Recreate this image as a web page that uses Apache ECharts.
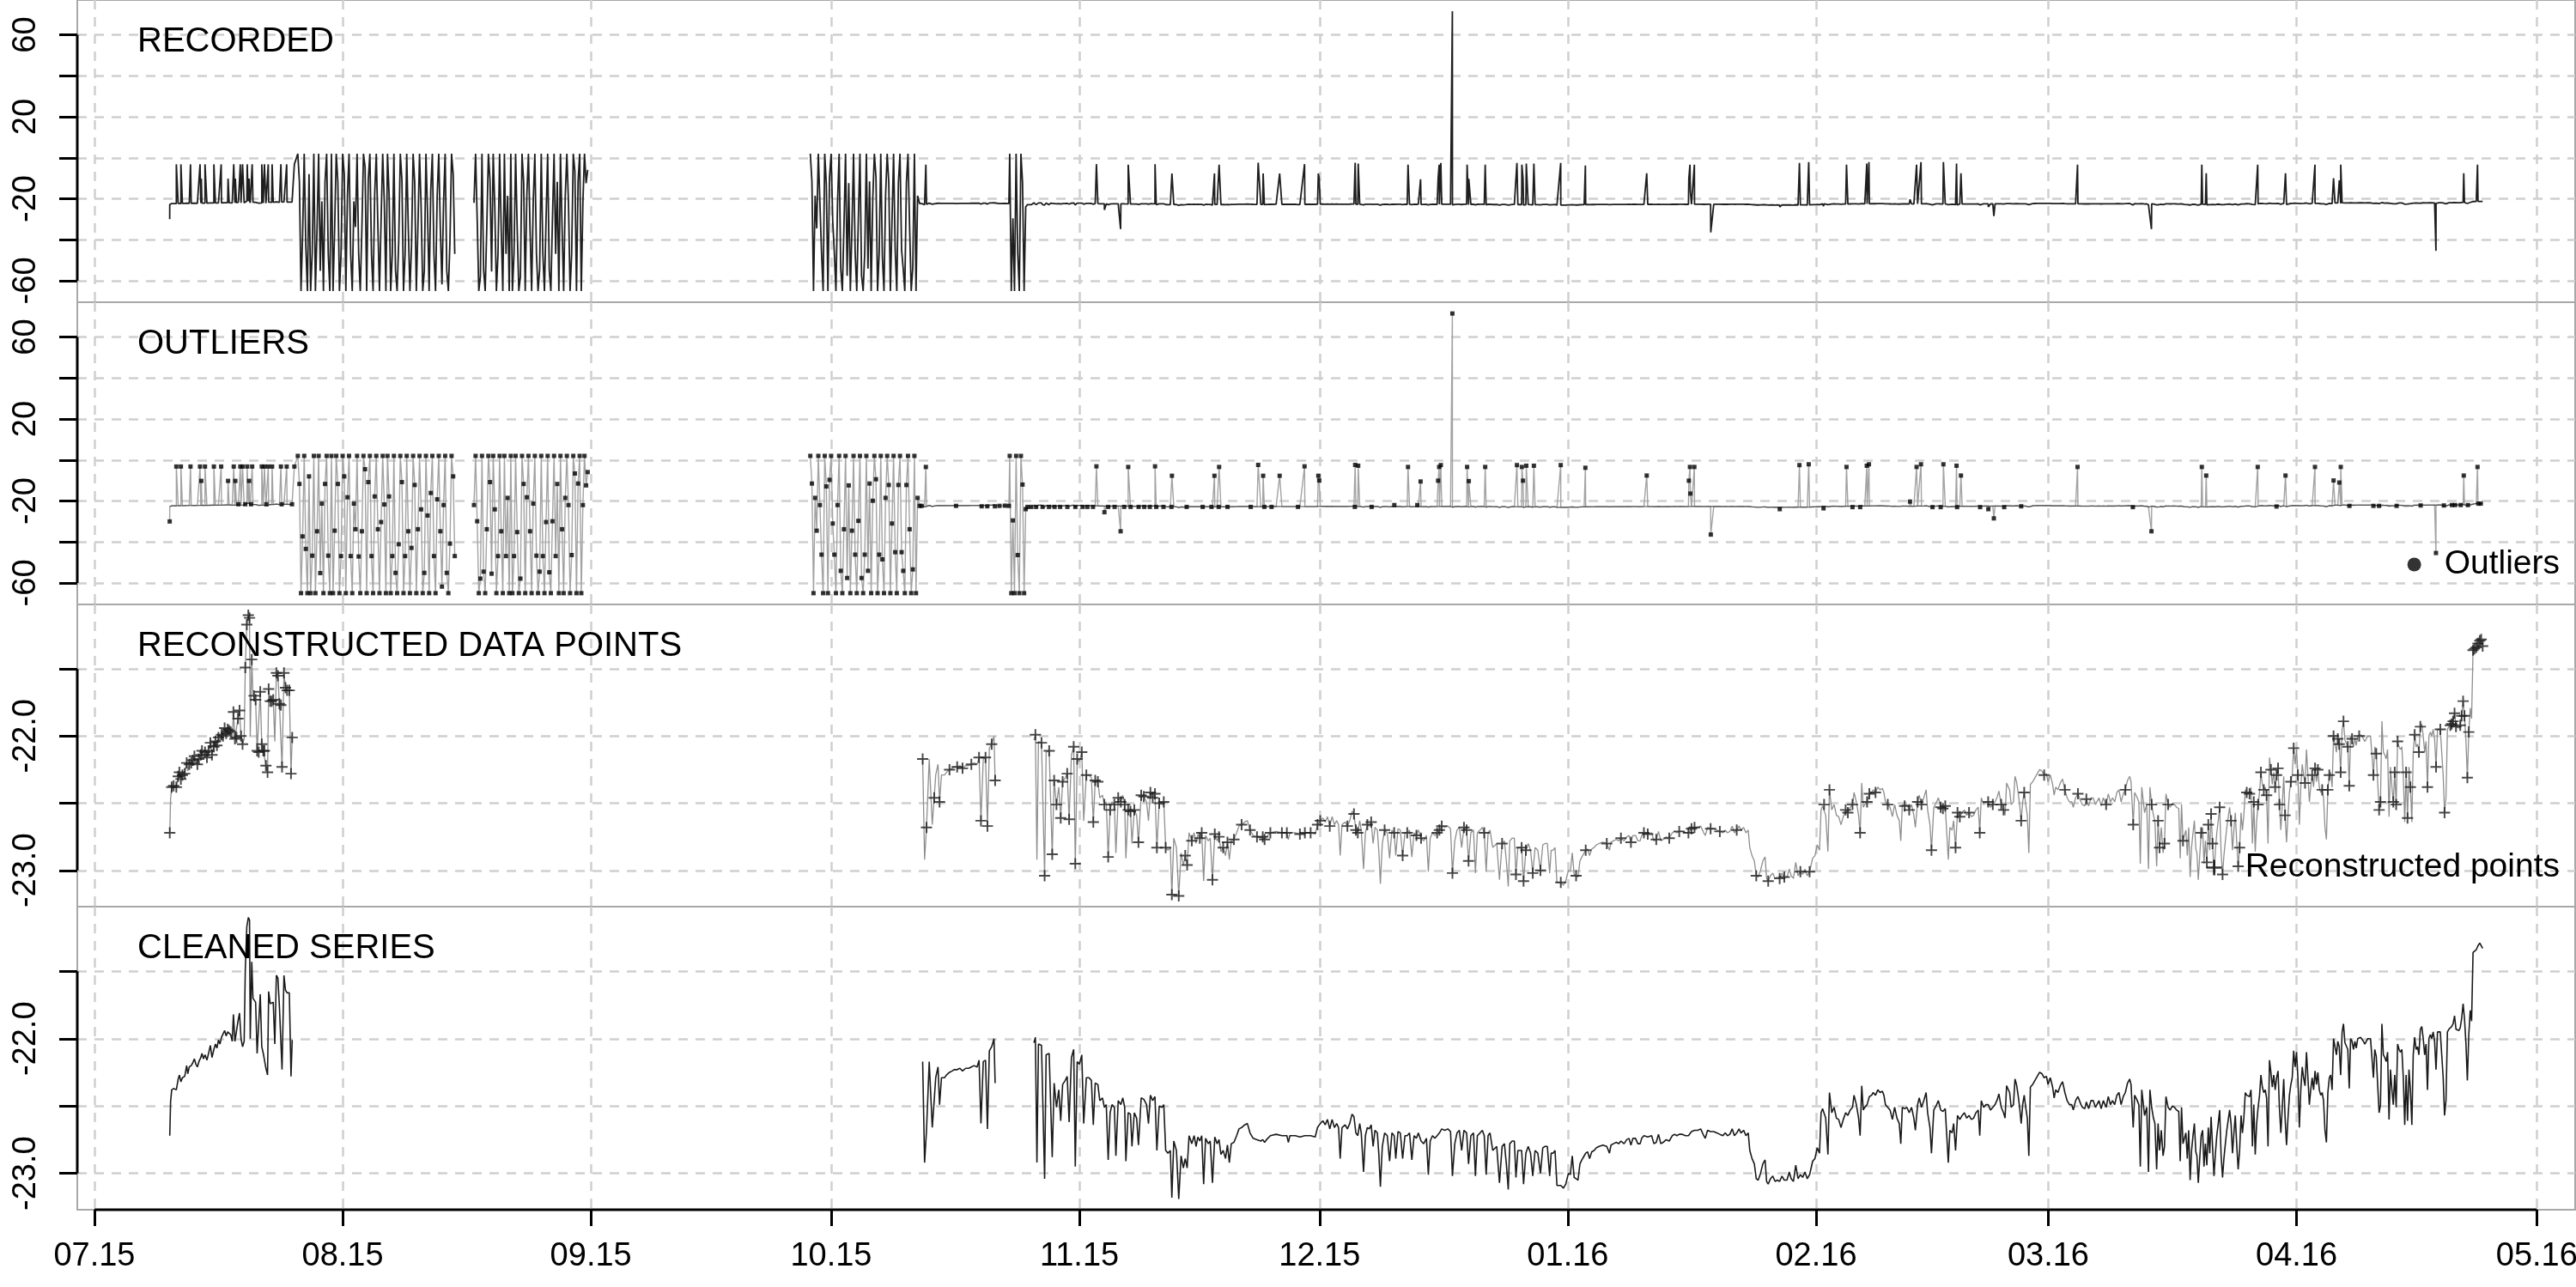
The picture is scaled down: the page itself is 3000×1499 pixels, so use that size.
<!DOCTYPE html>
<html><head><meta charset="utf-8">
<script src="https://cdn.jsdelivr.net/npm/echarts@6/dist/echarts.min.js"></script>
<style>html,body{margin:0;padding:0;background:#fff}#c{width:3000px;height:1499px}</style>
</head><body><div id="c"></div><script>
// ---------------- DATA (day = days since 2015-07-01) ----------------
const monthTickDates = ['2015-07-01','2015-08-01','2015-09-01','2015-10-01','2015-11-01','2015-12-01','2016-01-01','2016-02-01','2016-03-01','2016-04-01','2016-05-01'];
const monthTickLabels = ['07.15','08.15','09.15','10.15','11.15','12.15','01.16','02.16','03.16','04.16','05.16'];
const dayRange = [-2.14, 309.79];
const recordedRange = [-70.5, 77];
const cleanedRange = [-23.27, -21.02];
const recordedTicks = [-60, -40, -20, 0, 20, 40, 60];
const recordedLabelTicks = [-60, -20, 20, 60];
const cleanedTicks = [-23, -22.5, -22, -21.5];
const cleanedLabelTicks = [-23, -22];
const panelTitles = ['RECORDED', 'OUTLIERS', 'RECONSTRUCTED DATA POINTS', 'CLEANED SERIES'];

const cleanedJul = [[9.41,-22.72],[9.51,-22.47],[9.65,-22.38],[9.89,-22.37],[10.23,-22.38],[10.46,-22.30],[10.61,-22.27],[10.80,-22.32],[10.99,-22.29],[11.28,-22.28],[11.52,-22.20],[11.66,-22.26],[11.85,-22.21],[12.09,-22.20],[12.28,-22.18],[12.48,-22.15],[12.67,-22.19],[12.86,-22.21],[13.05,-22.17],[13.29,-22.14],[13.43,-22.11],[13.62,-22.15],[13.81,-22.12],[14.05,-22.16],[14.25,-22.11],[14.48,-22.05],[14.68,-22.14],[14.92,-22.08],[15.11,-22.04],[15.30,-22.07],[15.49,-22.01],[15.68,-22.04],[15.87,-21.99],[16.06,-22.00],[16.26,-21.94],[16.45,-21.98],[16.64,-21.95],[16.83,-21.96],[17.02,-21.97],[17.21,-22.02],[17.36,-21.82],[17.55,-22.02],[17.74,-22.01],[17.93,-21.87],[18.12,-21.81],[18.31,-22.00],[18.50,-22.06],[18.70,-22.02],[18.84,-21.49],[19.03,-21.17],[19.22,-21.10],[19.37,-21.12],[19.46,-22.00],[19.65,-21.43],[19.80,-21.70],[19.94,-21.70],[20.13,-21.73],[20.32,-22.11],[20.52,-22.12],[20.71,-21.67],[20.90,-22.06],[21.09,-22.11],[21.23,-22.11],[21.42,-22.22],[21.62,-22.27],[21.76,-21.65],[21.95,-21.74],[22.14,-21.74],[22.33,-21.73],[22.53,-22.04],[22.72,-21.53],[22.91,-21.55],[23.10,-21.76],[23.29,-21.77],[23.43,-22.23],[23.67,-21.53],[23.86,-21.64],[24.06,-21.66],[24.34,-21.66],[24.55,-22.28],[24.70,-22.01]];

const cleanedOct = [[103.43,-22.17],[103.67,-22.92],[103.91,-22.68],[104.25,-22.17],[104.44,-22.18],[104.63,-22.66],[104.87,-22.46],[105.06,-22.29],[105.35,-22.21],[105.54,-22.49],[105.78,-22.29],[106.16,-22.29],[106.40,-22.27],[106.78,-22.25],[107.12,-22.24],[107.36,-22.23],[107.74,-22.23],[108.08,-22.22],[108.41,-22.24],[108.80,-22.22],[109.18,-22.22],[109.51,-22.21],[109.85,-22.20],[110.23,-22.21],[110.47,-22.16],[110.71,-22.63],[111.00,-22.17],[111.28,-22.16],[111.52,-22.67],[111.76,-22.09],[112.05,-22.06],[112.34,-22.00],[112.48,-22.33]];

const cleanedMain = [[117.32,-22.03],[117.51,-21.99],[117.70,-22.92],[117.89,-22.04],[118.27,-22.05],[118.66,-23.04],[118.85,-22.12],[119.23,-22.11],[119.42,-22.12],[119.61,-22.88],[119.85,-22.33],[120.14,-22.51],[120.43,-22.38],[120.67,-22.61],[120.91,-22.34],[121.24,-22.31],[121.48,-22.28],[121.72,-22.62],[122.01,-22.14],[122.29,-22.08],[122.49,-22.95],[122.73,-22.17],[123.01,-22.19],[123.30,-22.12],[123.54,-22.63],[123.87,-22.29],[124.21,-22.29],[124.50,-22.31],[124.74,-22.64],[124.98,-22.33],[125.31,-22.34],[125.55,-22.46],[125.89,-22.44],[126.12,-22.51],[126.36,-22.49],[126.60,-22.90],[126.84,-22.55],[127.08,-22.49],[127.37,-22.51],[127.56,-22.87],[127.85,-22.46],[128.18,-22.49],[128.42,-22.44],[128.66,-22.51],[128.81,-22.91],[129.09,-22.55],[129.38,-22.56],[129.57,-22.80],[129.86,-22.55],[130.15,-22.59],[130.38,-22.79],[130.72,-22.44],[131.05,-22.45],[131.39,-22.49],[131.63,-22.63],[131.87,-22.42],[132.16,-22.46],[132.44,-22.43],[132.68,-22.83],[132.97,-22.50],[133.31,-22.51],[133.54,-22.49],[133.78,-22.83],[134.07,-22.85],[134.36,-22.83],[134.55,-23.18],[134.79,-22.76],[135.12,-22.83],[135.41,-23.19],[135.70,-22.87],[135.99,-22.96],[136.22,-22.89],[136.46,-22.96],[136.70,-22.72],[137.04,-22.78],[137.33,-22.72],[137.57,-22.80],[137.80,-22.73],[138.04,-22.76],[138.28,-22.72],[138.52,-23.08],[138.76,-22.74],[139.10,-22.78],[139.34,-22.76],[139.62,-23.07],[139.91,-22.73],[140.20,-22.78],[140.44,-22.75],[140.68,-22.86],[140.96,-22.83],[141.25,-22.89],[141.49,-22.79],[141.73,-22.92],[141.97,-22.78],[142.30,-22.77],[142.64,-22.72],[142.93,-22.67],[143.26,-22.66],[143.64,-22.64],[143.98,-22.63],[144.31,-22.70],[144.70,-22.74],[145.18,-22.75],[145.66,-22.76],[145.90,-22.75],[146.13,-22.77],[146.37,-22.75],[146.85,-22.72],[147.57,-22.71],[148.29,-22.72],[148.91,-22.72],[149.10,-22.77],[149.29,-22.72],[149.96,-22.72],[150.54,-22.73],[150.73,-22.74],[151.16,-22.72],[151.88,-22.72],[152.45,-22.73],[152.74,-22.66],[153.08,-22.63],[153.41,-22.61],[153.70,-22.64],[153.98,-22.60],[154.27,-22.67],[154.56,-22.60],[154.85,-22.66],[155.13,-22.63],[155.37,-22.66],[155.57,-22.89],[155.80,-22.66],[156.19,-22.64],[156.47,-22.67],[156.76,-22.63],[157.05,-22.56],[157.29,-22.58],[157.53,-22.70],[157.77,-22.72],[158.01,-22.63],[158.20,-22.70],[158.49,-22.99],[158.72,-22.72],[158.96,-22.66],[159.20,-22.67],[159.44,-22.64],[159.68,-22.80],[159.92,-22.68],[160.21,-22.70],[160.40,-22.86],[160.59,-23.10],[160.83,-22.80],[161.12,-22.70],[161.45,-22.72],[161.74,-22.91],[162.03,-22.70],[162.31,-22.72],[162.51,-22.89],[162.79,-22.69],[163.08,-22.70],[163.37,-22.89],[163.66,-22.72],[163.94,-22.72],[164.23,-22.70],[164.52,-22.90],[164.80,-22.72],[165.09,-22.74],[165.33,-22.70],[165.67,-22.76],[166.00,-22.78],[166.34,-22.74],[166.58,-23.01],[166.81,-22.76],[167.10,-22.72],[167.39,-22.74],[167.68,-22.72],[167.96,-22.70],[168.25,-22.67],[168.63,-22.68],[169.02,-22.67],[169.35,-22.69],[169.59,-23.02],[169.88,-22.78],[170.16,-22.70],[170.45,-22.68],[170.74,-22.83],[171.03,-22.68],[171.36,-22.70],[171.60,-22.93],[171.89,-22.72],[172.22,-22.70],[172.46,-23.02],[172.70,-22.72],[173.04,-22.70],[173.32,-22.68],[173.56,-22.72],[173.80,-23.01],[174.04,-22.72],[174.28,-22.70],[174.62,-22.83],
[175.12,-22.80],[175.46,-23.07],[175.79,-22.80],[176.08,-22.78],[176.32,-22.93],[176.56,-23.12],[176.75,-22.78],[177.04,-22.76],[177.32,-22.76],[177.52,-23.03],[177.76,-22.83],[178.00,-22.83],[178.23,-22.83],[178.47,-23.08],[178.76,-22.85],[179.05,-22.80],[179.34,-22.85],[179.62,-23.02],[179.91,-22.83],[180.25,-22.85],[180.58,-23.00],[180.87,-22.81],[181.15,-22.80],[181.44,-22.80],[181.73,-23.02],[181.92,-22.85],[182.16,-22.85],[182.40,-22.83],[182.64,-23.09],[183.12,-23.09],[183.45,-23.11],[183.74,-23.08],[184.07,-23.00],[184.31,-23.01],[184.55,-22.87],[184.79,-23.03],[185.03,-23.04],[185.27,-23.05],[185.51,-22.93],[185.75,-22.90],[186.04,-22.87],[186.23,-22.85],[186.47,-22.84],[186.71,-22.89],[186.99,-22.84],[187.28,-22.83],[187.57,-22.81],[187.90,-22.80],[188.38,-22.79],[188.86,-22.80],[189.20,-22.85],[189.39,-22.79],[189.68,-22.78],[190.06,-22.77],[190.35,-22.78],[190.63,-22.76],[191.02,-22.78],[191.35,-22.75],[191.64,-22.74],[191.88,-22.79],[192.12,-22.74],[192.45,-22.74],[192.74,-22.78],[193.03,-22.78],[193.22,-22.74],[193.50,-22.72],[193.98,-22.73],[194.46,-22.72],[194.75,-22.78],[195.04,-22.77],[195.32,-22.71],[195.61,-22.78],[195.90,-22.77],[196.28,-22.75],[196.66,-22.76],[197.05,-22.72],[197.33,-22.71],[197.62,-22.72],[197.91,-22.71],[198.29,-22.71],[198.68,-22.72],[199.06,-22.72],[199.44,-22.69],[199.82,-22.68],[200.21,-22.68],[200.59,-22.67],[200.97,-22.72],[201.16,-22.74],[201.45,-22.68],[201.83,-22.69],[202.22,-22.69],[202.60,-22.70],[202.98,-22.71],[203.37,-22.72],[203.65,-22.70],[203.94,-22.72],[204.23,-22.71],[204.52,-22.67],[204.80,-22.72],[205.09,-22.70],[205.38,-22.67],[205.62,-22.70],[205.95,-22.68],[206.24,-22.72],[206.53,-22.70],[206.72,-22.83],[207.00,-22.89],[207.29,-22.93],[207.53,-23.04],[207.77,-23.05],[208.06,-23.00],[208.35,-22.93],[208.63,-22.90],[208.82,-23.06],[209.02,-23.08],[209.30,-23.04],[209.59,-23.02],[209.88,-23.06],[210.16,-23.05],[210.45,-23.06],[210.74,-23.02],[211.03,-23.05],[211.36,-23.05],[211.65,-22.99],[211.89,-23.04],[212.17,-23.06],[212.46,-22.94],[212.75,-23.04],[213.04,-23.01],[213.32,-23.03],[213.61,-22.99],[213.90,-23.04],[214.19,-23.01],[214.38,-23.00],[214.57,-22.91],[214.86,-22.89],[215.14,-22.81],[215.43,-22.85],[215.62,-22.55],[215.81,-22.52],[216.00,-22.51],[216.20,-22.59],[216.48,-22.86],[216.67,-22.40],[216.96,-22.55],[217.25,-22.51],[217.54,-22.59],[217.82,-22.60],[218.11,-22.66],[218.40,-22.60],[218.69,-22.55],[218.97,-22.57],[219.26,-22.53],[219.55,-22.51],[219.74,-22.42],[220.03,-22.49],[220.31,-22.59],[220.50,-22.72],[220.70,-22.35],[220.89,-22.53],[221.08,-22.51],[221.37,-22.49],[221.65,-22.43],[221.94,-22.42],[222.13,-22.40],[222.42,-22.42],[222.71,-22.38],[222.99,-22.40],[223.28,-22.39],[223.47,-22.42],[223.66,-22.49],[223.95,-22.51],[224.24,-22.53],[224.53,-22.60],[224.81,-22.51],[225.10,-22.59],[225.39,-22.63],[225.58,-22.78],[225.77,-22.51],[226.06,-22.52],[226.34,-22.51],[226.63,-22.55],[226.92,-22.51],[227.21,-22.59],[227.40,-22.68],[227.68,-22.49],[227.88,-22.44],[228.16,-22.51],[228.45,-22.46],[228.74,-22.40],[228.93,-22.55],[229.22,-22.66],[229.41,-22.85],[229.70,-22.53],[229.98,-22.50],[230.27,-22.46],[230.56,-22.53],[230.84,-22.54],[231.13,-22.52],[231.32,-22.72],[231.51,-22.92],[231.71,-22.68],[231.99,-22.70],[232.18,-22.63],[232.42,-22.83],[232.66,-22.57],[232.95,-22.60],[233.24,-22.57],[233.52,-22.55],[233.81,-22.59],[234.10,-22.57],[234.39,-22.60],[234.67,-22.59],[234.96,-22.55],[235.25,-22.53],[235.44,-22.72],[235.63,-22.46],[235.92,-22.51],[236.21,-22.49],[236.49,-22.49],[236.78,-22.53],[237.07,-22.51],[237.35,-22.49],[237.64,-22.45],[237.83,-22.41],[238.12,-22.51],[238.41,-22.55],[238.60,-22.59],[238.79,-22.35],[238.98,-22.36],[239.17,-22.40],[239.36,-22.51],[239.65,-22.49],[239.84,-22.30],[240.03,-22.34],[240.23,-22.42],[240.42,-22.51],[240.61,-22.63],[240.80,-22.49],[240.99,-22.42],[241.18,-22.51],[241.38,-22.59],[241.57,-22.87],[241.76,-22.36],[242.05,-22.34],[242.33,-22.31],[242.62,-22.28],[242.91,-22.25],[243.20,-22.26],[243.48,-22.29],[243.77,-22.28],[243.96,-22.34],[244.25,-22.29],[244.54,-22.36],[244.73,-22.44],[244.92,-22.38],[245.20,-22.40],[245.49,-22.35],[245.78,-22.32],[246.07,-22.40],[246.35,-22.46],[246.64,-22.49],[246.93,-22.49],[247.12,-22.53],[247.41,-22.46],[247.70,-22.43],[247.89,-22.42],[248.08,-22.49],[248.27,-22.51],[248.56,-22.52],[248.75,-22.47],[249.04,-22.52],[249.33,-22.46],[249.61,-22.46],
[249.89,-22.51],[250.33,-22.46],[250.60,-22.52],[250.87,-22.46],[251.22,-22.51],[251.49,-22.43],[251.76,-22.49],[252.02,-22.46],[252.29,-22.49],[252.56,-22.42],[252.82,-22.40],[253.09,-22.49],[253.36,-22.43],[253.62,-22.40],[253.89,-22.33],[254.16,-22.30],[254.33,-22.34],[254.60,-22.66],[254.78,-22.42],[255.04,-22.45],[255.31,-22.49],[255.49,-22.95],[255.67,-22.38],[255.84,-22.37],[256.02,-22.57],[256.29,-22.51],[256.51,-22.99],[256.69,-22.38],[256.91,-22.51],[257.13,-22.59],[257.31,-22.63],[257.53,-22.97],[257.71,-22.63],[257.89,-22.83],[258.11,-22.68],[258.33,-22.87],[258.51,-22.80],[258.69,-22.43],[258.96,-22.51],[259.22,-22.53],[259.49,-22.50],[259.76,-22.51],[260.02,-22.53],[260.29,-22.54],[260.47,-22.91],[260.64,-22.51],[260.82,-22.78],[261.00,-22.79],[261.18,-22.70],[261.36,-22.89],[261.53,-22.68],[261.71,-23.05],[261.89,-22.83],[262.07,-22.72],[262.24,-22.63],[262.42,-22.84],[262.56,-22.87],[262.73,-23.07],[262.91,-22.89],[263.09,-22.72],[263.27,-22.68],[263.44,-22.95],[263.62,-22.78],[263.80,-22.94],[263.98,-22.66],[264.16,-22.85],[264.33,-22.58],[264.51,-22.80],[264.69,-23.02],[264.87,-22.85],[265.04,-22.72],[265.22,-22.63],[265.40,-22.53],[265.58,-22.87],[265.76,-23.03],[265.93,-22.89],[266.11,-22.78],[266.29,-22.68],[266.47,-22.68],[266.64,-22.53],[266.82,-22.63],[267.00,-22.85],[267.18,-22.70],[267.35,-22.57],[267.53,-22.79],[267.71,-22.97],[267.89,-22.83],[268.07,-22.57],[268.24,-22.70],[268.42,-22.59],[268.60,-22.40],[268.78,-22.42],[268.95,-22.42],[269.13,-22.43],[269.31,-22.38],[269.49,-22.80],[269.66,-22.49],[269.84,-22.86],[270.02,-22.63],[270.20,-22.51],[270.38,-22.42],[270.55,-22.27],[270.73,-22.36],[270.91,-22.40],[271.09,-22.38],[271.26,-22.44],[271.44,-22.80],[271.62,-22.16],[271.80,-22.25],[271.97,-22.36],[272.15,-22.27],[272.33,-22.38],[272.51,-22.29],[272.69,-22.24],[272.86,-22.51],[273.04,-22.70],[273.22,-22.51],[273.40,-22.30],[273.57,-22.59],[273.75,-22.79],[273.93,-22.59],[274.11,-22.42],[274.29,-22.34],[274.46,-22.29],[274.64,-22.09],[274.82,-22.21],[275.00,-22.10],[275.17,-22.29],[275.35,-22.66],[275.53,-22.38],[275.71,-22.21],[275.88,-22.29],[276.06,-22.35],[276.24,-22.10],[276.42,-22.29],[276.60,-22.49],[276.77,-22.38],[276.95,-22.29],[277.13,-22.38],[277.31,-22.24],[277.49,-22.34],[277.66,-22.25],[277.84,-22.38],[278.02,-22.42],[278.20,-22.40],[278.37,-22.46],[278.55,-22.68],[278.73,-22.77],[278.91,-22.40],[279.09,-22.29],[279.26,-22.27],[279.44,-22.38],[279.62,-22.00],[279.80,-22.06],[279.98,-22.12],[280.15,-22.02],[280.33,-22.06],[280.51,-22.27],[280.69,-21.95],[280.86,-21.89],[281.04,-22.03],[281.22,-22.02],[281.40,-22.08],[281.58,-22.37],[281.75,-22.00],[281.93,-22.02],[282.11,-22.08],[282.29,-22.02],[282.46,-22.07],[282.64,-22.00],[282.82,-22.00],[283.00,-21.99],[283.17,-22.00],[283.35,-22.02],[283.53,-22.04],[283.71,-22.02],[283.89,-22.00],[284.06,-21.99],[284.24,-22.00],[284.42,-22.00],[284.60,-22.29],[284.77,-22.08],[284.95,-22.13],[285.13,-22.14],[285.31,-22.55],[285.48,-22.49],[285.66,-21.89],[285.84,-22.12],[286.02,-22.14],[286.20,-22.17],[286.37,-22.10],[286.55,-22.60],[286.73,-22.23],[286.91,-22.38],[287.08,-22.49],[287.26,-22.27],[287.44,-22.51],[287.62,-22.04],[287.80,-22.08],[287.97,-22.10],[288.15,-22.08],[288.33,-22.29],[288.51,-22.64],[288.68,-22.27],[288.86,-22.61],[289.04,-22.23],[289.22,-22.38],[289.40,-22.64],[289.57,-22.12],[289.75,-21.99],[289.93,-22.08],[290.11,-22.06],[290.28,-22.12],[290.46,-21.93],[290.64,-21.91],[290.82,-22.00],[291.00,-22.12],[291.17,-22.04],[291.35,-22.38],[291.53,-22.00],[291.71,-21.97],[291.88,-22.00],[292.06,-21.95],[292.24,-22.02],[292.42,-22.23],[292.60,-21.95],[292.77,-21.96],[292.95,-21.95],[293.13,-21.95],[293.31,-22.29],[293.48,-22.57],[293.66,-22.46],[293.84,-21.95],[294.02,-21.93],[294.20,-21.92],[294.37,-21.91],[294.55,-21.89],[294.73,-21.83],[294.91,-21.93],[295.08,-21.93],[295.26,-21.94],[295.44,-21.92],[295.62,-21.85],[295.80,-21.74],[295.97,-21.85],[296.15,-22.03],[296.33,-22.31],[296.51,-21.97],[296.69,-21.79],[296.86,-21.87],[297.04,-21.36],[297.22,-21.35],[297.44,-21.34],[297.66,-21.31],[297.88,-21.29],[298.06,-21.28],[298.24,-21.33]];

// recorded outliers (day, recorded value) inside the clean stretches
const outliersJul = [[9.40,-30],[10.23,-3.2],[10.80,-3.2],[12.00,-3.2],[13.19,-3.2],[13.35,-10.2],[13.81,-3.2],[14.92,-3.2],[15.83,-3.2],[16.69,-10.2],[17.40,-3.2],[17.60,-10.2],[17.98,-21.6],[18.22,-3.2],[18.50,-3.2],[18.84,-21.6],[19.08,-3.2],[19.32,-10.2],[19.56,-21.6],[19.70,-3.2],[20.90,-3.2],[21.23,-3.2],[21.47,-21.6],[21.71,-3.2],[22.19,-3.2],[23.29,-3.2],[23.39,-21.6],[24.01,-3.2],[24.68,-21.6],[24.97,-3.2]];
const outliersOct = [[103.05,-22.4],[103.30,-22.4],[103.83,-3.4],[107.60,-22.4],[110.80,-22.6],[111.50,-22.6],[112.45,-22.6]];
const gapOutliers = [[113.02,-22.4],[113.70,-22.3],[114.20,-22.4],[116.52,-22.9],[117.00,-22.9]];
const outliersMain = [[117.60,-22.9],[118.40,-22.9],[119.20,-22.9],[119.90,-22.9],[120.60,-22.9],[121.50,-22.9],[122.50,-22.9],[123.40,-22.9],[124.00,-22.9],[124.70,-22.9],[125.13,-3.1],[126.13,-25.5],[126.60,-22.9],[127.40,-22.9],[128.15,-34.8],[128.60,-22.9],[129.10,-3.4],[129.40,-22.9],[130.40,-22.9],[131.10,-22.9],[131.80,-22.9],[132.45,-3.1],[132.60,-22.9],[133.50,-22.9],[134.50,-22.9],[134.56,-7.7],[136.40,-22.9],[138.40,-22.9],[139.50,-22.9],[139.87,-7.7],[140.40,-22.9],[140.45,-3.4],[141.50,-22.9],[144.40,-22.9],[145.33,-2.4],[145.95,-7.7],[146.10,-22.9],[147.00,-22.9],[148.01,-7.7],[150.30,-22.9],[151.12,-3.1],[152.84,-7.7],[152.95,-10.0],[157.40,-22.9],[157.44,-2.4],[157.82,-2.8],[159.50,-22.9],[162.33,-22.0],[164.04,-3.4],[165.20,-22.0],[165.61,-10.5],[167.80,-10.1],[167.93,-3.4],[168.14,-2.5],[169.58,71.5],[171.42,-3.4],[171.63,-10.3],[173.68,-3.4],[177.64,-2.5],[178.26,-3.4],[178.40,-10.1],[178.81,-2.8],[179.76,-2.8],[183.11,-2.5],[186.19,-3.8],[193.85,-7.6],[199.11,-10.1],[199.25,-3.4],[199.30,-16.4],[199.80,-3.4],[201.85,-36.4],[210.46,-24.0],[212.92,-2.5],[214.08,-2.1],[215.93,-23.6],[218.80,-3.4],[219.55,-23.0],[220.51,-23.0],[221.33,-2.8],[221.60,-2.1],[226.73,-20.3],[227.55,-3.4],[228.10,-2.1],[229.54,-23.0],[230.56,-23.0],[230.90,-2.1],[232.54,-2.8],[232.61,-23.0],[233.09,-7.6],[235.48,-23.0],[236.51,-24.0],[237.20,-28.5],[238.49,-23.0],[240.61,-22.6],[247.65,-3.4],[254.56,-23.0],[256.88,-34.8],[263.17,-3.4],[263.72,-7.6],[270.15,-3.4],[272.50,-22.7],[273.62,-7.6],[277.30,-3.4],[279.62,-10.0],[280.34,-11.0],[280.52,-3.4],[281.60,-22.4],[284.60,-22.4],[285.30,-22.4],[287.50,-22.4],[290.50,-22.2],[292.41,-45.4],[293.40,-22.2],[294.40,-22.0],[294.80,-22.0],[295.50,-22.0],[295.88,-7.6],[296.40,-22.0],[297.60,-3.4],[297.70,-21.3],[298.00,-21.3]];

// dense stretches of faulty recordings (all flagged as outliers), fixed 0.2-day sampling
const noiseStep = 0.2;
const noise1Start = 25.4;
const noise1 = [2,-11.7,-65,-37.3,2,-43.4,-65,-8,-65,-46.7,2,-65,-34.8,2,-55.2,-21.3,-65,-11.7,2,-46.7,-65,2,-65,-34.5,2,-11.7,-65,-46.9,2,-8,-65,-18.2,2,-46.9,-65,-21.3,-33.8,2,-47.1,-65,-34.8,2,-4.5,-65,-10.8,2,-46.9,-65,-17.8,2,-33.8,-65,-30.3,2,-21.7,-65,2,-17.8,-65,-46.9,2,-55.1,-65,-41.1,2,-10.8,-65,-46.9,2,-34.8,-65,-42.9,2,-12.2,-65,-33.8,2,-24.1,-65,-55.1,2,-27.1,-65,-16.1,2,-46.9,-65,-19.2,2,-34.8,-61.8,-22,2,-55.1,-65,-40.8,2,-8,-46.9];
const noise2Start = 47.4;
const noise2 = [-22,2,-29.9,-65,-57.9,2,-54.5,-65,-33.8,2,-10.8,-55.5,2,-24.1,-65,-46.9,2,-34.8,-65,2,-46.9,-18.5,-65,2,-65,-46.9,2,-35.2,-65,-57.9,2,-11.7,-65,-18.2,2,-34.8,-65,-21.3,2,-46.7,-65,-54.5,2,-46.9,-65,-30.3,2,-54.8,-65,-29.9,2,-46.9,-11.7,-65,2,-33.8,-65,-18.5,2,-22,-65,-46.4,2,-6.6,-65,-11.5,2,-65,-22,2,-12.4,-5.9];
const noise3Start = 89.4;
const noise3 = [2,-11.5,-65,-18.5,-34.5,2,-22,-46.2,-65,2,-12.9,-65,-9.7,2,-31,-46.2,-65,-22,2,-54.1,-65,-33.8,2,-57.6,-12.4,-65,-34.5,2,-46.2,-65,-29.7,2,-57.6,-65,-46.2,2,-54.1,-11.5,-65,-19.9,2,-9.4,-65,-46.2,2,-48.5,-65,-18.5,2,-12.2,-65,-31,2,-45,-65,-12.2,2,-45,-54.1,-65,-12.2,2,-33.8,-65,-53.4,2,-65,-18.5];
const noise4Start = 114.3;
const noise4 = [2,-65,-29.5,-65,2,-46.4,-65,2,-12,-65,-24];

// extra reconstructed positions seen in panel 3 (days)
const reconExtraDays = [9.65,9.89,10.46,10.61,10.99,11.28,11.52,11.85,12.28,12.48,12.86,13.05,13.43,14.05,14.25,14.48,14.68,15.11,15.30,15.49,16.06,16.26,16.45,16.64,16.83,17.02,17.74,17.93,18.12,18.31,19.03,19.22,19.37,19.65,19.94,20.13,20.32,20.52,20.71,21.09,21.42,21.62,21.76,21.95,22.33,22.72,22.91,23.10,23.67,23.86,24.06,24.34,24.55,
104.0,104.9,105.6,106.8,108.4,109.5,110.5,111.3,112.0,
117.5,118.3,118.7,119.6,120.1,120.9,121.7,122.3,122.7,123.3,123.9,125.3,126.9,127.9,129.9,130.7,132.2,133.0,133.8,135.4,136.2,137.0,138.0,141.0,142.3,143.3,148.9,151.9,154.3,156.5,158.9,161.1,163.4,170.9,175.8,180.6,185.0,188.9,190.6,192.0,193.5,195.0,196.6,198.0,203.1,205.2,207.5,209.0,211.0,213.0,216.8,219.0,222.4,224.0,226.1,231.0,234.0,238.0,241.0,243.6,246.2,248.8,251.2,253.6,257.65,257.83,258.54,258.90,260.86,263.90,264.26,264.44,265.33,265.69,266.76,267.65,267.83,268.73,269.08,269.62,270.51,270.87,271.23,271.76,272.30,272.66,272.83,273.55,274.26,274.62,275.16,276.05,276.94,277.66,278.19,278.91,279.09,280.16,280.87,281.41,281.95,282.84,284.98,285.52,287.13,287.31,287.66,288.73,288.91,289.27,289.81,290.34,290.52,291.41,292.49,293.02,293.56,294.27,294.63,294.99,295.35,295.70,296.06,296.42,297.1,297.31,297.5,297.67,297.9,298.03,298.2];

// ---------------- BUILD ----------------
const DAY = 86400000;
const day0 = new Date(2015, 6, 1).getTime();
const T = d => day0 + d * DAY;
const monthTicks = monthTickDates.map(s => { const p = s.split('-'); return new Date(+p[0], +p[1] - 1, +p[2]).getTime(); });
const noisePts = (start, vals) => vals.map((v, i) => [start + i * noiseStep, v]);
const noiseAll = [].concat(noisePts(noise1Start, noise1), noisePts(noise2Start, noise2), noisePts(noise3Start, noise3), noisePts(noise4Start, noise4));
const outliersClean = [].concat(outliersJul, outliersOct, outliersMain);

function groups(points, maxGap) {
  const out = []; let cur = [];
  points.forEach(p => {
    if (cur.length && p[0] - cur[cur.length - 1][0] > maxGap) { out.push(cur); cur = []; }
    cur.push(p);
  });
  if (cur.length) out.push(cur);
  return out.map(g => g.map(p => [T(p[0]), p[1]]));
}
const cleanedAll = [].concat(cleanedJul, cleanedOct, cleanedMain);
const recordedAll = [].concat(cleanedAll, outliersClean, gapOutliers, noiseAll).sort((a, b) => a[0] - b[0]);
const recordedGroups = groups(recordedAll, 1.5);
const cleanedGroups = [cleanedJul, cleanedOct, cleanedMain].map(g => g.map(p => [T(p[0]), p[1]]));
const outlierDots = [].concat(outliersClean, gapOutliers, noiseAll).map(p => [T(p[0]), p[1]]);

const reconIdx = new Set();
outliersClean.map(p => p[0]).concat(reconExtraDays).forEach(d => {
  let best = -1, bd = 0.5;
  cleanedAll.forEach((p, i) => { const dd = Math.abs(p[0] - d); if (dd < bd) { bd = dd; best = i; } });
  if (best >= 0) reconIdx.add(best);
});
const reconPts = Array.from(reconIdx).sort((a, b) => a - b).map(i => [T(cleanedAll[i][0]), cleanedAll[i][1]]);

const FONT = 'Liberation Sans, Arial, Helvetica, sans-serif';
const plusPath = 'path://M17,0h6v17h17v6h-17v17h-6v-17h-17v-6h17z';
const gridTops = [0, 352, 704, 1056];
const gridHeights = [352, 352, 352, 353];
const yRanges = [recordedRange, recordedRange, cleanedRange, cleanedRange];
const yTicks = [recordedTicks, recordedTicks, cleanedTicks, cleanedTicks];
const yLabelTicks = [recordedLabelTicks, recordedLabelTicks, cleanedLabelTicks, cleanedLabelTicks];
const gridLine = { show: true, lineStyle: { color: '#cfcfcf', width: 2.5, type: [11, 9] } };

const grid = gridTops.map((t, i) => ({ left: 90, right: 1, top: t, height: gridHeights[i], containLabel: false, outerBoundsMode: 'none', show: true, borderColor: '#a8a8a8', borderWidth: 2, backgroundColor: 'transparent' }));
const xAxis = gridTops.map((t, i) => ({
  type: 'value', gridIndex: i, min: T(dayRange[0]), max: T(dayRange[1]),
  axisLine: { show: false },
  axisTick: { show: i === 3, customValues: monthTicks, length: 19, lineStyle: { color: '#000', width: 3 } },
  axisLabel: { show: i === 3, customValues: monthTicks, margin: 36, fontSize: 38, color: '#000', fontFamily: FONT,
    formatter: v => { const k = monthTicks.indexOf(v); return k >= 0 ? monthTickLabels[k] : ''; } },
  splitLine: gridLine
}));
const yAxis = gridTops.map((t, i) => ({
  type: 'value', gridIndex: i, min: yRanges[i][0], max: yRanges[i][1],
  axisLine: { show: false },
  axisTick: { show: true, customValues: yTicks[i], length: 21, lineStyle: { color: '#000', width: 3 } },
  axisLabel: { customValues: yLabelTicks[i], rotate: 90, margin: 40, fontSize: 38, color: '#000', fontFamily: FONT,
    formatter: v => i < 2 ? String(v) : v.toFixed(1) },
  splitLine: gridLine
}));

const series = [];
const lineSeries = (name, data, gi, color, width, z) => ({ name, type: 'line', data, xAxisIndex: gi, yAxisIndex: gi, showSymbol: false, symbol: 'none', silent: true, animation: false, z: z || 2, lineStyle: { color, width } });
recordedGroups.forEach(g => series.push(lineSeries('Recorded', g, 0, '#1e1e1e', 1.8)));
recordedGroups.forEach(g => series.push(lineSeries('RecordedGray', g, 1, '#a3a3a3', 1.4)));
cleanedGroups.forEach(g => series.push(lineSeries('CleanedOnOutliers', g, 1, '#4a4a4a', 1.2)));
series.push({ name: 'Outliers', type: 'scatter', data: outlierDots, xAxisIndex: 1, yAxisIndex: 1, symbol: 'rect', symbolSize: 5, itemStyle: { color: '#000' }, silent: true, animation: false, z: 3 });
cleanedGroups.forEach(g => series.push(lineSeries('CleanedGray', g, 2, '#8e8e8e', 1.3)));
series.push({ name: 'Reconstructed points', type: 'scatter', data: reconPts, xAxisIndex: 2, yAxisIndex: 2, symbol: plusPath, symbolSize: 13, itemStyle: { color: '#1a1a1a' }, silent: true, animation: false, z: 3 });
cleanedGroups.forEach(g => series.push(lineSeries('Cleaned', g, 3, '#1a1a1a', 1.6)));
for (let i = 0; i < 4; i++) {
  const s = lineSeries('yAxisLine' + i, [[T(dayRange[0]), yTicks[i][0]], [T(dayRange[0]), yTicks[i][yTicks[i].length - 1]]], i, '#000', 3, 5);
  s.clip = false; series.push(s);
}
{ const s = lineSeries('xAxisLine', [[monthTicks[0], cleanedRange[0]], [monthTicks[monthTicks.length - 1], cleanedRange[0]]], 3, '#000', 3, 5); s.clip = false; series.push(s); }

const title = panelTitles.map((txt, i) => ({ text: txt, left: 160, top: gridTops[i] + 29, padding: 0, textStyle: { fontSize: 40, fontWeight: 'normal', color: '#000', fontFamily: FONT } }));
const legendText = { fontSize: 39, color: '#000', fontFamily: FONT, padding: [0, 0, 0, 22] };
const legend = [
  { data: ['Outliers'], right: 19, top: 638, padding: 0, icon: 'circle', itemWidth: 16, itemHeight: 16, selectedMode: false, textStyle: legendText, itemStyle: { color: '#000' } },
  { data: ['Reconstructed points'], right: 19, top: 991, padding: 0, icon: plusPath, itemWidth: 18, itemHeight: 18, selectedMode: false, textStyle: legendText, itemStyle: { color: '#000' } }
];

const chart = echarts.init(document.getElementById('c'), null, { renderer: 'canvas' });
chart.setOption({ animation: false, backgroundColor: '#fff', title, legend, grid, xAxis, yAxis, series });
</script></body></html>
